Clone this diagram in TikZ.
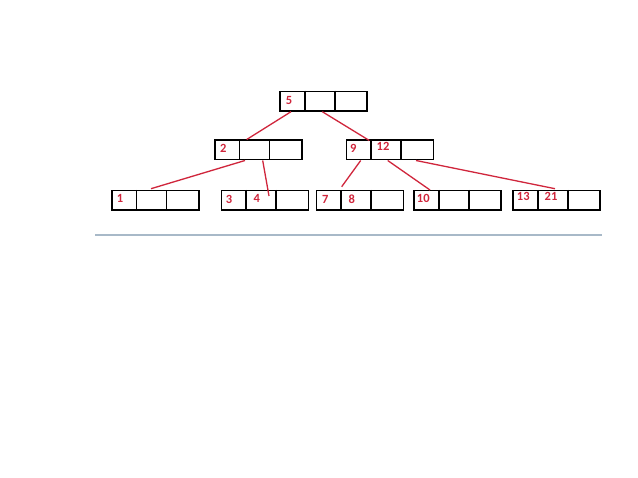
\documentclass[tikz,border=0pt]{standalone}
\usepackage{fontspec}
\setmainfont{Carlito}
\definecolor{keyred}{RGB}{208,38,60}
\definecolor{rulegray}{RGB}{168,185,200}
\tikzset{
  bbox/.style={draw,line width=1.5pt,minimum width=87pt,minimum height=19.5pt,inner sep=0pt,anchor=north west},
  key/.style={text=keyred,font=\fontsize{12.5}{14}\selectfont\bfseries,inner sep=0pt},
  link/.style={draw=keyred,line width=1.3pt}
}
% three-cell box: name, x, y
\newcommand{\threebox}[3]{%
  \node[bbox] (#1) at (#2,#3) {};
  \draw[line width=1.5pt] ([xshift=25.5pt]#1.north west) -- ([xshift=25.5pt]#1.south west);
  \draw[line width=1.5pt] ([xshift=55.5pt]#1.north west) -- ([xshift=55.5pt]#1.south west);
}
\begin{document}
\begin{tikzpicture}[x=1pt,y=-1pt]
  \useasboundingbox[fill=white] (0,0) rectangle (638,478);

  % boxes
  \threebox{root}{279.3}{90.7}
  \threebox{two}{214}{139.5}
  \threebox{nine}{345.7}{139.5}
  \threebox{one}{111}{190}
  \threebox{three}{220.7}{190}
  \threebox{seven}{315.7}{190}
  \threebox{ten}{413.3}{190}
  \threebox{thirteen}{512.3}{190}

  % keys
  \node[key] (k5) at (289,100) {5};
  \node[key] (k2) at (223.3,148) {2};
  \node[key] (k9) at (353.3,148.5) {9};
  \node[key] (k12) at (383,146) {12};
  \node[key] (k1) at (120,198) {1};
  \node[key] (k3) at (229,199.3) {3};
  \node[key] (k4) at (256.7,198.3) {4};
  \node[key] (k7) at (325.3,199) {7};
  \node[key] (k8) at (351.7,199) {8};
  \node[key] (k10) at (423.3,198.7) {10};
  \node[key] (k13) at (523.3,196.3) {13};
  \node[key] (k21) at (551,196.3) {21};

  % links
  \draw[link] ([xshift=11.7pt]root.south west) -- ([xshift=32.7pt]two.north west);
  \draw[link] ([xshift=43pt]root.south west) -- ([xshift=23.6pt,yshift=-1pt]nine.north west);
  \draw[link] ([xshift=31pt]two.south west) -- ([xshift=40pt,yshift=1.3pt]one.north west);
  \draw[link] ([xshift=48.7pt]two.south west) -- ([xshift=48.3pt,yshift=-6pt]three.north west);
  \draw[link] ([xshift=15pt]nine.south west) -- ([xshift=26pt,yshift=3.3pt]seven.north west);
  \draw[link] ([xshift=42pt]nine.south west) -- ([xshift=16.7pt]ten.north west);
  \draw[link] ([xshift=70.3pt]nine.south west) -- ([xshift=42.7pt,yshift=1.3pt]thirteen.north west);

  % rule
  \draw[rulegray,line width=1.6pt] (95,235) -- (601.7,235);
\end{tikzpicture}
\end{document}
